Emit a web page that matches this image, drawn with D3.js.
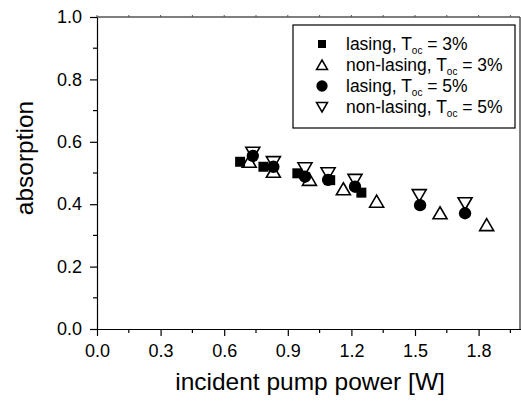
<!DOCTYPE html>
<html><head><meta charset="utf-8">
<script src="https://cdn.jsdelivr.net/npm/d3@7"></script>
<style>body{margin:0;background:#fff}svg{display:block;font-family:"Liberation Sans",Arial,sans-serif}</style>
</head><body>
<svg id="c" width="521" height="403"></svg>
<script>
const xTicks = [0.0, 0.3, 0.6, 0.9, 1.2, 1.5, 1.8];
const yTicks = [0.0, 0.2, 0.4, 0.6, 0.8, 1.0];
const lasing3X = [0.675, 0.785, 0.945, 1.10, 1.247];
const lasing3Y = [0.536, 0.520, 0.499, 0.477, 0.437];
const nonLasing3X = [0.718, 0.832, 1.002, 1.162, 1.319, 1.618, 1.838];
const nonLasing3Y = [0.536, 0.504, 0.478, 0.448, 0.408, 0.371, 0.333];
const lasing5X = [0.735, 0.832, 0.981, 1.09, 1.217, 1.524, 1.736];
const lasing5Y = [0.555, 0.520, 0.488, 0.478, 0.456, 0.397, 0.371];
const nonLasing5X = [0.735, 0.832, 0.981, 1.09, 1.217, 1.52, 1.736];
const nonLasing5Y = [0.565, 0.535, 0.515, 0.499, 0.478, 0.429, 0.403];
const legendLabels = [["lasing, T","oc"," = 3%"],["non-lasing, T","oc"," = 3%"],["lasing, T","oc"," = 5%"],["non-lasing, T","oc"," = 5%"]];

const svg = d3.select("#c");
const L = 97, R = 520, T = 17, B = 329;
const x = d3.scaleLinear().domain([0, 2.0]).range([L, R + 1]);
const y = d3.scaleLinear().domain([0, 1.0]).range([B, T]);

// frame top/right
svg.append("line").attr("x1", L).attr("x2", R).attr("y1", T).attr("y2", T).attr("stroke", "#555").attr("stroke-width", 1.5);
svg.append("line").attr("x1", R).attr("x2", R).attr("y1", T).attr("y2", B).attr("stroke", "#555").attr("stroke-width", 1.5);
const topTicks = d3.range(0, 2.0, 0.15);
svg.selectAll(".tt").data(topTicks).enter().append("line")
  .attr("x1", d => x(d)).attr("x2", d => x(d)).attr("y1", T).attr("y2", T - 2).attr("stroke", "#555");

const FONT = "Liberation Sans, Arial, sans-serif";
// bottom axis
const xAxis = d3.axisBottom(x).tickValues(xTicks).tickFormat(d3.format(".1f")).tickSize(7).tickSizeOuter(0).tickPadding(8);
const gx = svg.append("g").attr("transform", `translate(0,${B})`).call(xAxis);
gx.select(".domain").attr("stroke", "#000").attr("stroke-width", 1.2);
gx.selectAll(".tick line").attr("stroke", "#000").attr("stroke-width", 1.2);
gx.selectAll("text").attr("font-size", 18).attr("fill", "#000").attr("font-family", FONT);
const xMinor = d3.range(0.15, 2.0, 0.3);
svg.selectAll(".xm").data(xMinor).enter().append("line")
  .attr("x1", d => x(d)).attr("x2", d => x(d)).attr("y1", B).attr("y2", B + 4).attr("stroke", "#000").attr("stroke-width", 1.2);

// left axis
const yAxis = d3.axisLeft(y).tickValues(yTicks).tickFormat(d3.format(".1f")).tickSize(7).tickSizeOuter(0).tickPadding(8);
const gy = svg.append("g").attr("transform", `translate(${L},0)`).call(yAxis);
gy.select(".domain").attr("stroke", "#000").attr("stroke-width", 1.2);
gy.selectAll(".tick line").attr("stroke", "#000").attr("stroke-width", 1.2);
gy.selectAll("text").attr("font-size", 18).attr("fill", "#000").attr("font-family", FONT);
const yMinor = d3.range(0.1, 1.0, 0.2);
svg.selectAll(".ym").data(yMinor).enter().append("line")
  .attr("x1", L).attr("x2", L - 4).attr("y1", d => y(d)).attr("y2", d => y(d)).attr("stroke", "#000").attr("stroke-width", 1.2);

// titles
svg.append("text").attr("x", 310).attr("y", 390).attr("text-anchor", "middle").attr("font-size", 24.5).text("incident pump power [W]");
svg.append("text").attr("transform", "translate(33,158) rotate(-90)").attr("text-anchor", "middle").attr("font-size", 24.5).text("absorption");

// symbols
const symSquare = d3.symbol().type(d3.symbolSquare).size(100);
const symCircle = d3.symbol().type(d3.symbolCircle).size(120);
const triUp = "M0,-6.5L7,5.5L-7,5.5Z";
const triDown = "M0,6.5L7,-5.5L-7,-5.5Z";

function draw(xs, ys, path, filled) {
  svg.append("g").selectAll("path").data(xs.map((v, i) => [v, ys[i]])).enter().append("path")
    .attr("d", path)
    .attr("transform", d => `translate(${x(d[0])},${y(d[1])})`)
    .attr("fill", filled ? "#000" : "none")
    .attr("stroke", "#000").attr("stroke-width", filled ? 0 : 1.6);
}
draw(lasing3X, lasing3Y, symSquare(), true);
draw(nonLasing3X, nonLasing3Y, triUp, false);
draw(lasing5X, lasing5Y, symCircle(), true);
draw(nonLasing5X, nonLasing5Y, triDown, false);

// legend
const lg = svg.append("g");
lg.append("rect").attr("x", 293).attr("y", 25).attr("width", 222).attr("height", 103)
  .attr("fill", "#fff").attr("stroke", "#000").attr("stroke-width", 1.2);
const rowY = [44, 65, 86, 107];
const legSyms = [[d3.symbol().type(d3.symbolSquare).size(64)(), true], ["M0,-5L5.5,4.5L-5.5,4.5Z", false], [d3.symbol().type(d3.symbolCircle).size(100)(), true], ["M0,5L5.5,-4.5L-5.5,-4.5Z", false]];
legendLabels.forEach((lab, i) => {
  lg.append("path").attr("d", legSyms[i][0]).attr("transform", `translate(322,${rowY[i]})`)
    .attr("fill", legSyms[i][1] ? "#000" : "none").attr("stroke", "#000").attr("stroke-width", legSyms[i][1] ? 0 : 1.5);
  const t = lg.append("text").attr("x", 346).attr("y", rowY[i] + 6).attr("font-size", 17.5);
  t.append("tspan").text(lab[0]);
  t.append("tspan").attr("font-size", 10).attr("dy", 4).text(lab[1]);
  t.append("tspan").attr("dy", -4).text(lab[2]);
});
</script>
</body></html>
